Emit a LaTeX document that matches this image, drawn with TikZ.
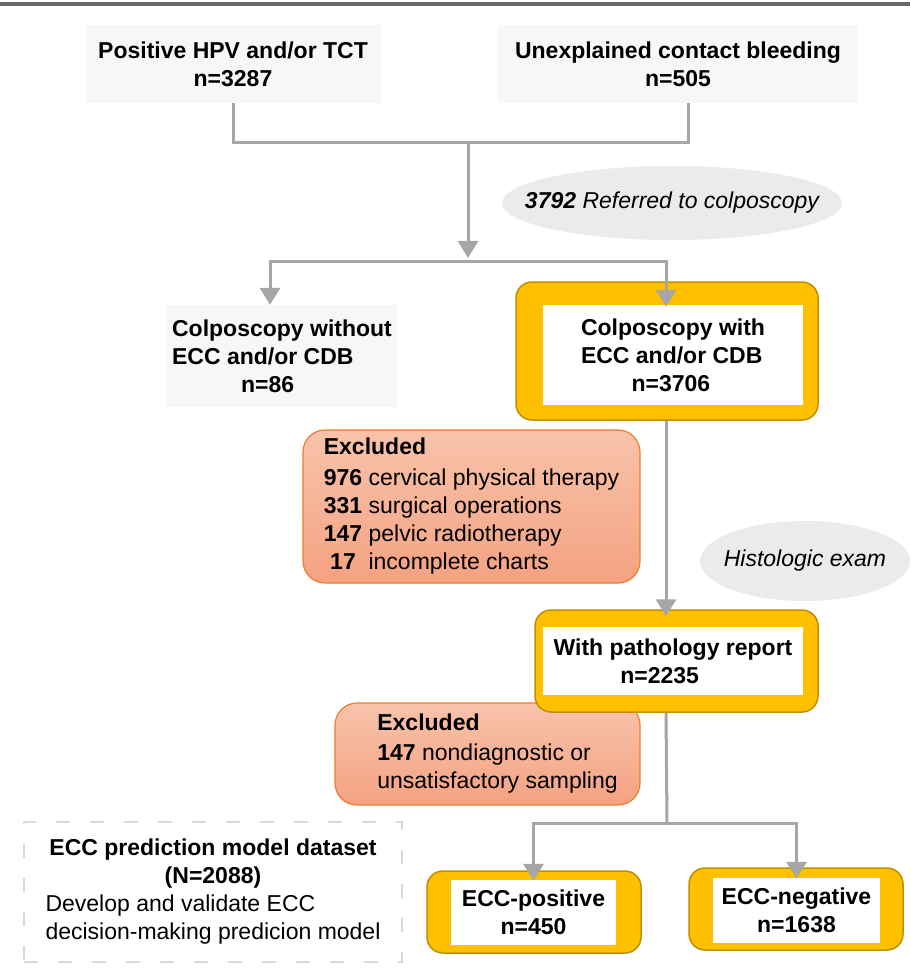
\documentclass[tikz,border=0pt]{standalone}
\usepackage{fontspec}
\setmainfont{Liberation Sans}
\usetikzlibrary{arrows.meta,calc,shapes.geometric}
\definecolor{amber}{HTML}{FFC000}
\definecolor{amberdk}{HTML}{BF9000}
\definecolor{salmonT}{HTML}{F8C3AB}
\definecolor{salmonB}{HTML}{F4A281}
\definecolor{salmonE}{HTML}{ED7D31}
\definecolor{connc}{HTML}{A6A6A6}
\definecolor{grayfill}{HTML}{F7F7F7}
\definecolor{ellfill}{HTML}{EBEBEB}
\definecolor{topline}{HTML}{6A6A6A}
\begin{document}
\begin{tikzpicture}[x=1pt,y=-1pt,
  font=\fontsize{23}{28}\selectfont,
  graybox/.style={fill=grayfill, draw=none, inner sep=0pt, font=\fontsize{23}{28}\selectfont\bfseries},
  frame/.style={fill=amber, draw=amberdk, line width=1.5pt, rounded corners=16pt, inner sep=0pt},
  inbox/.style={fill=white, draw=none, inner sep=0pt, font=\fontsize{23}{28}\selectfont\bfseries},
  excl/.style={top color=salmonT, bottom color=salmonB, draw=salmonE, line width=1.2pt, rounded corners=22pt, inner sep=0pt, align=left},
  oval/.style={ellipse, fill=ellfill, draw=none, inner sep=0pt},
  ovaltext/.style={inner sep=0pt, font=\fontsize{23}{28}\selectfont\itshape},
  conn/.style={draw=connc, line width=3pt},
  arr/.style={conn, -{Triangle[width=20pt,length=17pt]}},
  dset/.style={draw=gray!30, line width=1.2pt, dash pattern=on 14pt off 20pt, inner sep=0pt},
]
\useasboundingbox (0,0) rectangle (910,973);
\fill[white] (0,0) rectangle (910,973);
\draw[topline, line width=4pt] (0,4) -- (910,4);

% top boxes
\node[graybox, minimum width=295pt, minimum height=78pt, align=center] (b1) at (233,64) {Positive HPV and/or TCT\\n=3287};
\node[graybox, minimum width=360pt, minimum height=78pt, align=center] (b2) at (678,64) {Unexplained contact bleeding\\n=505};
\coordinate (b2s) at (688,103);
\coordinate (j1) at (468,143);
\coordinate (sM) at (468,262);
\coordinate (sL) at (270,262);
\coordinate (sR) at (666,262);

\node[oval, minimum width=340pt, minimum height=74pt] (e1) at (672,203) {};
\node[ovaltext] (e1t) at (e1.center) {\textbf{3792} Referred to colposcopy};

% second row
\node[graybox, minimum width=230pt, minimum height=102pt, align=left] (b3) at (282,356) {Colposcopy without\\ECC and/or CDB\\\hspace*{3.0em}n=86};
\node[frame, minimum width=302pt, minimum height=138pt] (b4) at (667,351) {};
\node[inbox, minimum width=260pt, minimum height=100pt, align=left] (b4in) at (673,355) {Colposcopy with\\ECC and/or CDB\\\hspace*{2.2em}n=3706};

\draw[conn] (b1.south) |- (j1) -| (b2s);
\draw[arr, shorten >=4pt] (j1) -- (sM);
\draw[arr] (sM) -- (sL) -- (sL |- b3.north);
\draw[arr, shorten >=-2pt] (sM) -- (sR) -- (sR |- b4in.north);

% excluded 1
\node[excl, minimum width=337pt, minimum height=153pt] (ex1) at (471.5,506.5) {\textbf{Excluded}\\[3pt]
\textbf{976} cervical physical therapy\\
\textbf{331} surgical operations\\
\textbf{147} pelvic radiotherapy\\
\makebox[1.668em][c]{\textbf{17}} incomplete charts};

\node[oval, minimum width=210pt, minimum height=80pt] (e2) at (805,561) {};
\node[ovaltext] (e2t) at (e2.center) {Histologic exam};

% excluded 2
\node[excl, minimum width=305pt, minimum height=102pt] (ex2) at (487.5,754) {\hspace*{20pt}\textbf{Excluded}\\[2pt]
\hspace*{20pt}\textbf{147} nondiagnostic or\\
\hspace*{20pt}unsatisfactory sampling};

% pathology box
\node[frame, minimum width=283pt, minimum height=102pt] (b5) at (676.5,661) {};
\node[inbox, minimum width=260pt, minimum height=68pt, align=left] (b5in) at (673,661) {With pathology report\\\hspace*{2.9em}n=2235};

\draw[arr, shorten >=-7pt] (b4.south -| sR) -- (b5.north -| sR);

% bottom boxes
\node[frame, minimum width=214pt, minimum height=82pt] (b6) at (534,912) {};
\node[inbox, minimum width=165pt, minimum height=65pt, align=center] (b6in) at (533.5,912.5) {ECC-positive\\n=450};
\node[frame, minimum width=214pt, minimum height=82pt] (b7) at (796,909) {};
\node[inbox, minimum width=167pt, minimum height=65pt, align=center] (b7in) at (796.5,910.5) {ECC-negative\\n=1638};

\coordinate (k1) at (667,823);
\draw[conn] (b5.south -| sR) -- (k1);
\draw[arr, shorten >=-1pt] (k1) -| (b6in.north);
\draw[arr, shorten >=-1pt] (k1) -| (b7in.north);

% dataset box
\node[dset, minimum width=378pt, minimum height=140pt] (ds) at (213,892) {\begin{tabular}{@{}l@{}}
\multicolumn{1}{@{}c@{}}{\textbf{ECC prediction model dataset}}\\
\multicolumn{1}{@{}c@{}}{\textbf{(N=2088)}}\\
Develop and validate ECC\\
decision-making predicion model
\end{tabular}};
\end{tikzpicture}
\end{document}
